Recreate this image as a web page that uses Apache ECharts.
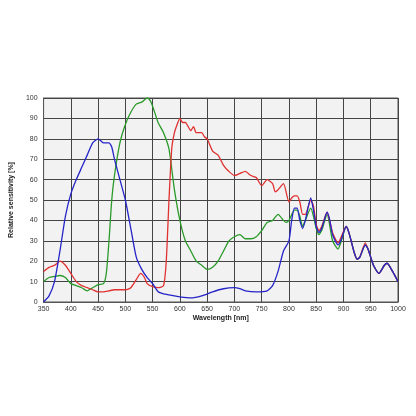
<!DOCTYPE html>
<html><head><meta charset="utf-8">
<script src="https://cdn.jsdelivr.net/npm/echarts@6/dist/echarts.min.js"></script>
<style>html,body{margin:0;padding:0;background:#fff}#c{width:416px;height:416px}</style>
</head><body><div id="c"></div>
<script>
const tail = [[905,37],[910,34],[920,24],[925,21],[930,22],[940,28],[945,26],[955,18],[965,14],[975,18],[980,19],[990,15],[1000,10]];
const blueData = [[350,0],[360,3],[370,10],[380,25],[390,42],[400,53],[410,60],[420,66],[430,72],[440,78],[450,80],[455,79],[460,78],[470,78],[475,76],[480,70],[490,60],[500,50],[510,36],[520,22],[530,16],[540,12],[550,9],[560,5],[570,4],[580,3.5],[590,3],[600,2.5],[620,2],[640,3],[660,5],[680,6.5],[700,7],[710,6.5],[720,5.5],[740,5],[760,5.5],[770,8],[780,15],[790,25],[800,30],[805,40],[810,46],[815,46],[820,40],[825,36],[830,40],[840,51],[845,45],[850,37],[855,34],[860,36],[870,44],[875,40],[880,33],[890,28],[895,30]].concat(tail);
const greenData = [[350,10],[360,12],[370,12.5],[380,13],[390,12],[400,9],[410,8],[420,7],[430,5.5],[440,7],[450,8.5],[460,9],[465,14],[470,30],[475,50],[480,62],[490,78],[500,87],[510,93],[520,97],[530,98],[540,100],[545,99],[550,96],[560,88],[570,83],[580,75],[590,55],[600,40],[610,30],[620,25],[630,20],[640,18],[650,16],[660,17],[670,20],[680,25],[690,30],[700,32],[710,33],[720,31],[730,31],[740,32],[750,35],[760,39],[770,40],[780,43],[790,40],[795,39],[800,40],[810,45],[815,45],[820,42],[825,37],[830,40],[840,46],[845,42],[850,36],[855,33],[860,35],[870,43],[880,30],[890,26],[895,29]].concat(tail);
const redData = [[350,15],[360,17],[370,18],[380,20],[390,18],[400,14],[410,10],[420,8],[430,7],[440,6],[450,5],[460,5],[470,5.5],[480,6],[500,6],[510,7],[520,11],[528,14],[535,12],[540,9],[550,7.5],[560,7],[570,8],[575,20],[580,50],[585,75],[590,83],[595,87],[600,90],[605,88],[610,88],[620,84],[625,86],[630,83],[640,83],[645,81],[650,80],[660,74],[670,72],[680,67],[690,64],[700,62],[710,63],[720,64],[730,62],[740,61],[750,57],[760,60],[770,58],[775,54],[780,55],[790,58],[800,49],[805,51],[810,52],[815,52],[820,49],[825,43],[830,43],[840,50],[845,47],[850,38],[855,35],[860,37],[870,44],[880,34],[890,29]].concat(tail.map(p=>[p[0],p[0]===940?29:p[1]]));
const labels = [{name:'B',coord:[461,83],color:'#2b2bc0'},{name:'G',coord:[562,98],color:'#2a8a2a'},{name:'R',coord:[631,87],color:'#d03030'}];
const colors = {R:'#e03030',G:'#2a9a2a',B:'#2424c8'};
function mk(name,data){
  const l = labels.find(x=>x.name===name);
  return {type:'line',name,data,smooth:0.2,showSymbol:false,lineStyle:{width:1.3,color:colors[name]},itemStyle:{color:colors[name]},
    markPoint:{symbol:'circle',symbolSize:1,itemStyle:{opacity:0},data:[{coord:l.coord,label:{show:true,position:'inside',formatter:name,color:l.color,fontSize:11}}]}};
}
const chart = echarts.init(document.getElementById('c'));
chart.setOption({
  animation:false,
  grid:{left:43,right:18,top:98,bottom:114,show:true,backgroundColor:'#f2f2f2',borderColor:'#555',borderWidth:1},
  xAxis:{type:'value',min:350,max:1000,interval:50,name:'Wavelength [nm]',nameLocation:'middle',nameGap:13,
    nameTextStyle:{fontWeight:'bold',fontSize:7,color:'#222'},axisLabel:{fontSize:7,color:'#333',margin:4,formatter:v=>String(v)},
    axisLine:{lineStyle:{color:'#555'}},axisTick:{show:false},splitLine:{lineStyle:{color:'#444',width:1}}},
  yAxis:{type:'value',min:0,max:100,interval:10,name:'Relative sensitivity [%]',nameLocation:'middle',nameGap:20,
    nameTextStyle:{fontWeight:'bold',fontSize:7,color:'#222'},axisLabel:{fontSize:7,color:'#333',margin:6},
    axisLine:{lineStyle:{color:'#555'}},axisTick:{show:false},splitLine:{lineStyle:{color:'#444',width:1}}},
  series:[mk('G',greenData),mk('R',redData),mk('B',blueData)]
});
</script></body></html>
